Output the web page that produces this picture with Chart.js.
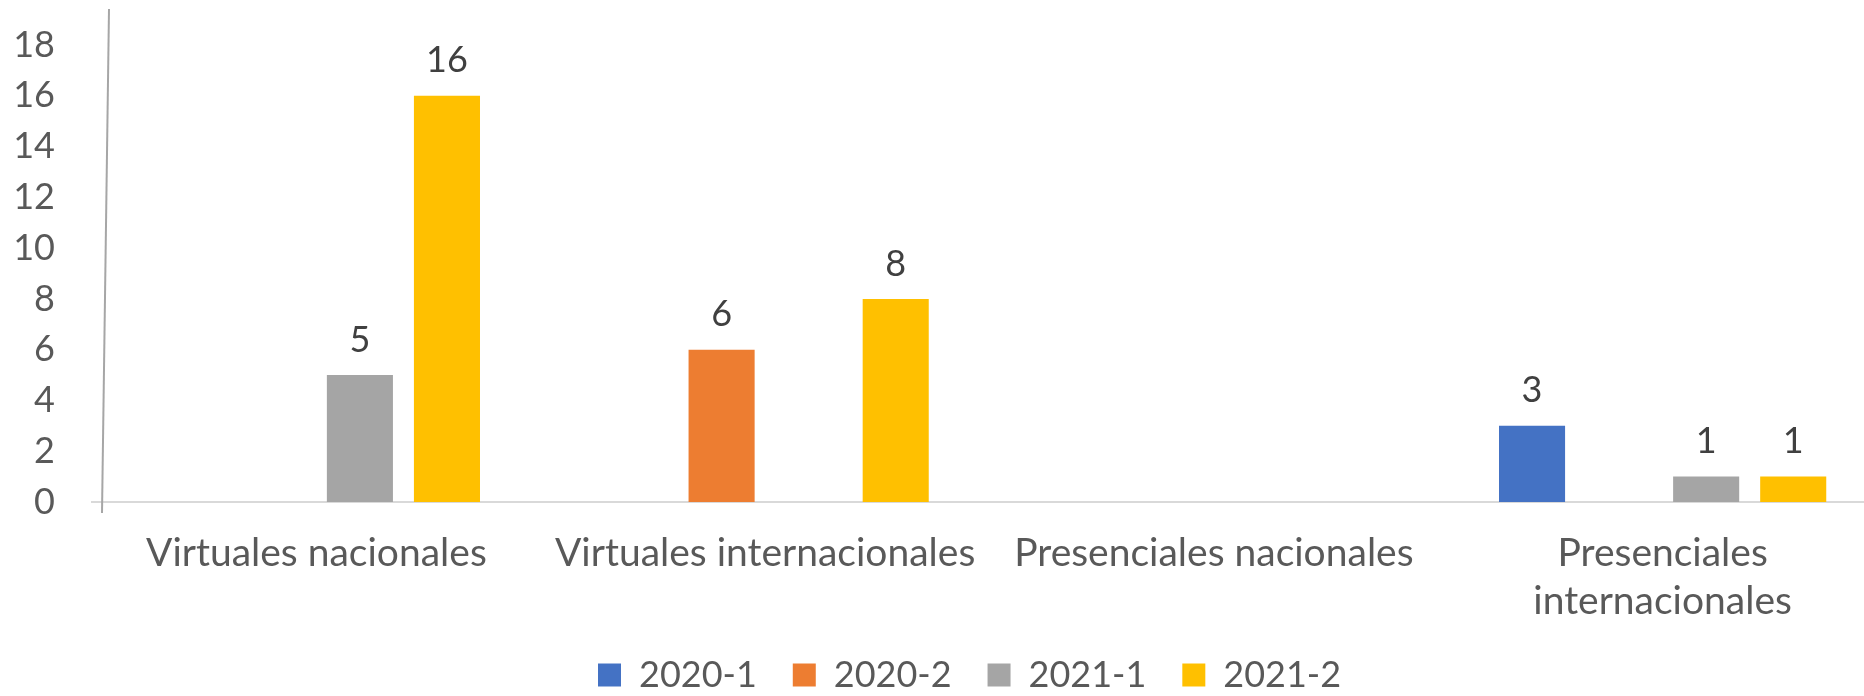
<!DOCTYPE html>
<html>
<head>
<meta charset="utf-8">
<script src="https://cdn.jsdelivr.net/npm/chart.js@4.4.1/dist/chart.umd.min.js"></script>
<style>
  html, body { margin: 0; padding: 0; background: #ffffff; overflow: hidden; }
  #wrap { width: 1887px; height: 696px; }
</style>
</head>
<body>
<div id="wrap"><canvas id="eventsChart" width="1887" height="696"></canvas></div>
<script>
// Chart data
const categories = [
  "Virtuales nacionales",
  "Virtuales internacionales",
  "Presenciales nacionales",
  ["Presenciales", "internacionales"],
];
const seriesNames = ["2020-1", "2020-2", "2021-1", "2021-2"];
const values2020_1 = [null, null, null, 3];
const values2020_2 = [null, 6, null, null];
const values2021_1 = [5, null, null, 1];
const values2021_2 = [16, 8, null, 1];
const yTicks = [0, 2, 4, 6, 8, 10, 12, 14, 16, 18];
const yMax = 19.38;

const seriesColors = ["#4472C4", "#ED7D31", "#A5A5A5", "#FFC000"];
const seriesValues = [values2020_1, values2020_2, values2021_1, values2021_2];

const fontFamily = "Lato, 'Open Sans', sans-serif";
const textColor = "#595959";

// Value labels above each bar
const barValueLabels = {
  id: "barValueLabels",
  afterDatasetsDraw(chart) {
    const ctx = chart.ctx;
    ctx.save();
    ctx.font = "36px " + fontFamily;
    ctx.fillStyle = "#404040";
    ctx.textAlign = "center";
    ctx.textBaseline = "middle";
    chart.data.datasets.forEach((ds, i) => {
      const meta = chart.getDatasetMeta(i);
      meta.data.forEach((bar, j) => {
        if (ds.data[j] === null) return;
        ctx.fillText(String(ds.data[j]), bar.x, bar.y - 35);
      });
    });
    ctx.restore();
  },
};

// The slightly tilted vertical axis line, and legend placement
// (legend takes ~no room in the layout, it is moved below the axis labels)
const axisAndLegend = {
  id: "axisAndLegend",
  afterLayout(chart) {
    const legend = chart.legend;
    if (!legend || !legend.lineWidths) return;
    const pad = legend.options.labels.padding;
    const startX = (legend.left + pad + legend.right - legend.lineWidths[0]) / 2;
    const dx = 598 - startX;
    legend.left += dx;
    legend.right += dx;
    legend.top = 621;
    legend.bottom = 696;
    legend.height = 75;
  },
  afterDraw(chart) {
    const ctx = chart.ctx;
    ctx.save();
    ctx.strokeStyle = "#A6A6A6";
    ctx.lineWidth = 2;
    ctx.beginPath();
    ctx.moveTo(109, 9);
    ctx.lineTo(102, 513);
    ctx.stroke();
    ctx.restore();
  },
};

const datasets = seriesNames.map((name, i) => ({
  label: name,
  data: seriesValues[i],
  backgroundColor: seriesColors[i],
  borderWidth: 0,
  categoryPercentage: 0.776,
  barPercentage: 0.759,
}));

const ctx = document.getElementById("eventsChart").getContext("2d");
const eventsChart = new Chart(ctx, {
  type: "bar",
  data: {
    labels: categories,
    datasets: datasets,
  },
  options: {
    responsive: false,
    animation: false,
    layout: { padding: { top: 10, left: 0, right: 0, bottom: 0 } },
    plugins: {
      legend: {
        position: "bottom",
        maxHeight: 1,
        labels: {
          boxWidth: 23,
          boxHeight: 23,
          padding: 36,
          color: textColor,
          font: { family: fontFamily, size: 36 },
        },
      },
      tooltip: { enabled: false },
    },
    scales: {
      x: {
        grid: { display: false, drawTicks: false },
        border: { display: true, color: "#D9D9D9", width: 2 },
        ticks: {
          color: textColor,
          padding: 27,
          maxRotation: 0,
          autoSkip: false,
          font: { family: fontFamily, size: 39, lineHeight: 1.23 },
        },
        afterFit(scale) {
          scale.height = 696 - 502 - 1;
        },
      },
      y: {
        min: 0,
        max: yMax,
        grid: { display: false, drawTicks: false },
        border: { display: false },
        ticks: {
          color: textColor,
          padding: 37,
          font: { family: fontFamily, size: 36 },
        },
        afterBuildTicks(scale) {
          scale.ticks = yTicks.map((v) => ({ value: v }));
        },
        afterFit(scale) {
          scale.width = 92;
          scale.paddingTop = 0;
          scale.paddingBottom = 0;
        },
      },
    },
  },
  plugins: [barValueLabels, axisAndLegend],
});
</script>
</body>
</html>
